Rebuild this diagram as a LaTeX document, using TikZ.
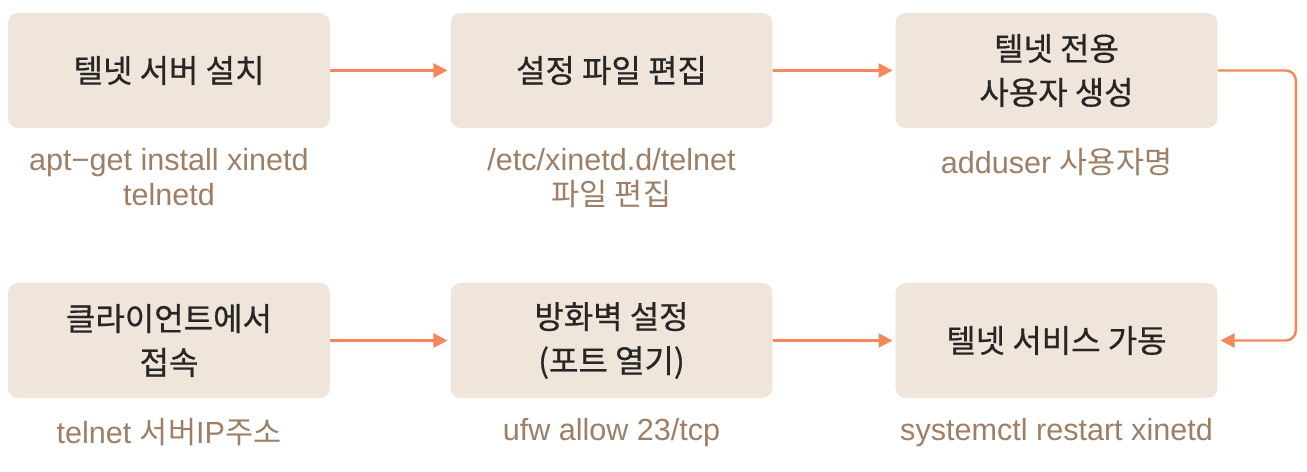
\documentclass[tikz,border=0pt]{standalone}
\usepackage{fontspec}
\setmainfont{Liberation Sans}
\newfontfamily\kr{Noto Sans CJK KR}
\newfontfamily\krbox[FakeBold=0.6]{Noto Sans CJK KR}
\usetikzlibrary{positioning, arrows.meta}

\definecolor{boxfill}{HTML}{EFE5DA}
\definecolor{flowline}{HTML}{F5875A}
\definecolor{cmdtext}{HTML}{9E7F66}
\definecolor{steptext}{HTML}{262626}

\tikzset{
  stepbox/.style={draw=none, fill=boxfill, rounded corners=0.2cm,
    minimum width=6.44cm, minimum height=2.3cm, align=center,
    text=steptext, font=\krbox\fontsize{18.2}{25}\selectfont},
  cmd/.style={anchor=north, align=center, text=cmdtext,
    font=\fontsize{17.4}{20}\selectfont},
  flow/.style={-{Triangle[length=8pt,width=8pt]}, line width=1.4pt,
    draw=flowline, shorten >=1.5pt}
}

\begin{document}
\begin{tikzpicture}[x=0.02cm, y=0.02cm]
	\useasboundingbox (0,0) rectangle (1307,-472);

	% top row
	\node[stepbox] (install) at (169,-70.5) {텔넷 서버 설치};
	\node[stepbox] (conf) at (611.5,-70.5) {설정 파일 편집};
	\node[stepbox] (user) at (1056.5,-70.5) {텔넷 전용\\사용자 생성};

	% bottom row
	\node[stepbox] (client) at (169,-340.5) {클라이언트에서\\접속};
	\node[stepbox] (fw) at (611.5,-340.5) {방화벽 설정\\(포트 열기)};
	\node[stepbox] (run) at (1056.5,-340.5) {텔넷 서비스 가동};

	% commands
	\node[cmd] (installcmd) at (169,-142) {apt−get install xinetd\\telnetd};
	\node[cmd] (confcmd) at (611.5,-142) {/etc/xinetd.d/telnet\\{\kr 파일 편집}};
	\node[cmd] (usercmd) at (1056.5,-142) {adduser {\kr 사용자명}};
	\node[cmd] (clientcmd) at (169,-412) {telnet {\kr 서버}IP{\kr 주소}};
	\node[cmd] (fwcmd) at (611.5,-412) {ufw allow 23/tcp};
	\node[cmd] (runcmd) at (1056.5,-412) {systemctl restart xinetd};

	\draw[flow] (install) -- (conf);
	\draw[flow] (conf) -- (user);
	\draw[flow, rounded corners=0.2cm] (user.east) -- ++(78,0) |- (run.east);
	\draw[flow] (client) -- (fw);
	\draw[flow] (fw) -- (run);

\end{tikzpicture}
\end{document}
